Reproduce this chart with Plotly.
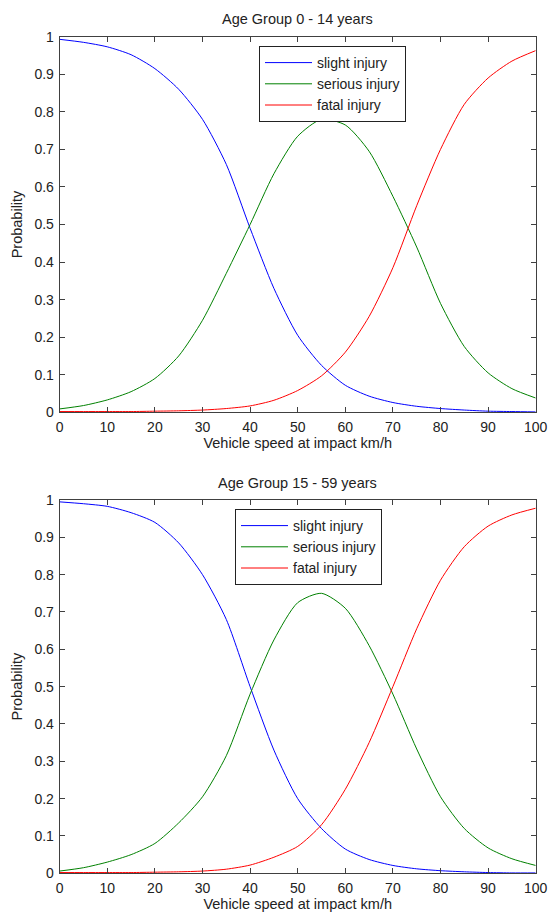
import plotly.graph_objects as go

speed = [0, 5, 10, 15, 20, 25, 30, 35, 40, 45, 50, 55, 60, 65, 70, 75, 80, 85, 90, 95, 100]

# Age group 0 - 14 years
child_slight = [0.993, 0.985, 0.973, 0.952, 0.915, 0.86, 0.78, 0.66, 0.49, 0.33, 0.205,
                0.125, 0.072, 0.043, 0.026, 0.016, 0.01, 0.006, 0.003, 0.002, 0.001]
child_serious = [0.009, 0.018, 0.033, 0.055, 0.09, 0.15, 0.245, 0.37, 0.5, 0.635, 0.735,
                 0.78, 0.765, 0.695, 0.575, 0.44, 0.29, 0.175, 0.105, 0.063, 0.038]
child_fatal = [0.002, 0.002, 0.002, 0.002, 0.003, 0.004, 0.006, 0.01, 0.017, 0.032, 0.058,
               0.097, 0.16, 0.255, 0.385, 0.55, 0.70, 0.82, 0.89, 0.935, 0.963]

# Age group 15 - 59 years
adult_slight = [0.995, 0.99, 0.983, 0.966, 0.94, 0.885, 0.80, 0.68, 0.50, 0.33, 0.20,
                0.12, 0.065, 0.037, 0.021, 0.012, 0.007, 0.004, 0.002, 0.001, 0.001]
adult_serious = [0.006, 0.015, 0.03, 0.05, 0.08, 0.135, 0.205, 0.315, 0.48, 0.625, 0.725,
                 0.75, 0.71, 0.61, 0.48, 0.333, 0.205, 0.12, 0.068, 0.039, 0.021]
adult_fatal = [0.002, 0.002, 0.002, 0.002, 0.003, 0.004, 0.006, 0.011, 0.022, 0.043, 0.072,
               0.13, 0.225, 0.35, 0.50, 0.655, 0.785, 0.875, 0.93, 0.96, 0.978]

names = ["slight injury", "serious injury", "fatal injury"]
colors = ["#0000ff", "#008000", "#ff0000"]
titles = ["Age Group 0 - 14 years", "Age Group 15 - 59 years"]

FONT = "Liberation Sans, Arial, sans-serif"
TXT = "#222222"
fig = go.Figure()

groups = [(child_slight, child_serious, child_fatal), (adult_slight, adult_serious, adult_fatal)]
for gi, series in enumerate(groups):
    ax = "" if gi == 0 else "2"
    for name, color, vals in zip(names, colors, series):
        fig.add_trace(go.Scatter(
            x=speed, y=vals, name=name, mode="lines",
            line=dict(color=color, width=1, shape="spline", smoothing=0.7),
            xaxis="x" + ax, yaxis="y" + ax,
            legend="legend" if gi == 0 else "legend2",
        ))

W, H = 551, 914
x_dom = [59.7 / W, 535.7 / W]
top_dom = [1 - 412.3 / H, 1 - 36.7 / H]
bot_dom = [1 - 873.3 / H, 1 - 500 / H]


def xaxis(anchor):
    return dict(domain=x_dom, anchor=anchor, range=[0, 100], tickvals=list(range(0, 101, 10)),
                ticks="inside", ticklen=5, tickcolor="#404040", mirror="ticks", showline=True,
                linecolor="#404040", linewidth=1, showgrid=False, zeroline=False,
                automargin=False, ticklabelstandoff=2,
                tickfont=dict(family=FONT, size=14, color=TXT),
                title=dict(text="Vehicle speed at impact km/h", standoff=3,
                           font=dict(family=FONT, size=14.5, color=TXT)))


def yaxis(anchor, domain):
    return dict(domain=domain, anchor=anchor, range=[0, 1],
                tickvals=[i / 10 for i in range(11)],
                ticktext=["0"] + [f"0.{i}" for i in range(1, 10)] + ["1"],
                ticks="inside", ticklen=5, tickcolor="#404040", mirror="ticks", showline=True,
                linecolor="#404040", linewidth=1, showgrid=False, zeroline=False,
                automargin=False, ticklabelstandoff=2,
                tickfont=dict(family=FONT, size=14, color=TXT),
                title=dict(text="Probability", standoff=8,
                           font=dict(family=FONT, size=14.5, color=TXT)))


legend_style = dict(bgcolor="white", bordercolor="#222222", borderwidth=1,
                    font=dict(family=FONT, size=14, color=TXT),
                    xanchor="left", yanchor="top", itemwidth=47, tracegroupgap=0)

fig.update_layout(
    width=W, height=H,
    margin=dict(l=0, r=0, t=0, b=0, autoexpand=False),
    paper_bgcolor="white", plot_bgcolor="white",
    xaxis=xaxis("y"), yaxis=yaxis("x", top_dom),
    xaxis2=xaxis("y2"), yaxis2=yaxis("x2", bot_dom),
    legend=dict(x=259 / W, y=1 - 46 / H, **legend_style),
    legend2=dict(x=235 / W, y=1 - 509 / H, **legend_style),
    annotations=[
        dict(text=titles[0], x=297.7 / W, y=1 - 18.5 / H, xref="paper", yref="paper",
             yanchor="middle", showarrow=False, font=dict(family=FONT, size=14.5, color=TXT)),
        dict(text=titles[1], x=297.7 / W, y=1 - 482.5 / H, xref="paper", yref="paper",
             yanchor="middle", showarrow=False, font=dict(family=FONT, size=14.5, color=TXT)),
    ],
)

fig.write_html("out.html")
